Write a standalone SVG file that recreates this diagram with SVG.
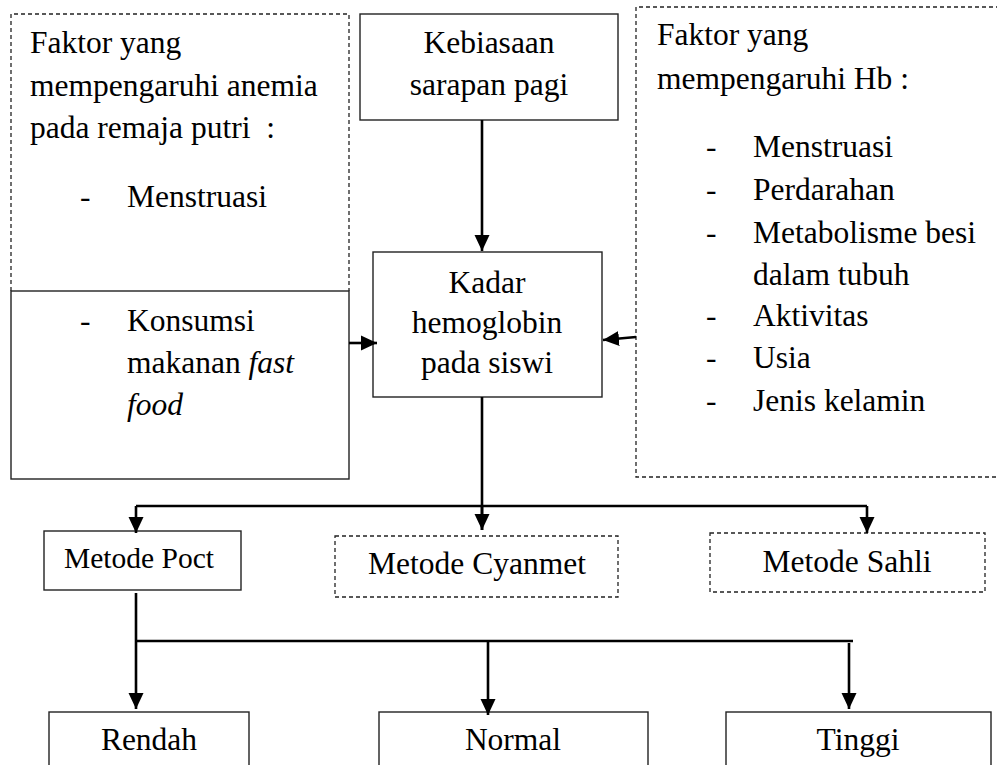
<svg xmlns="http://www.w3.org/2000/svg" width="997" height="765" viewBox="0 0 997 765">
<style>
text{font-family:"Liberation Serif","Times New Roman",serif;font-size:31.5px;fill:#000}
.c{text-anchor:middle}
.box{fill:#fff;stroke:#222;stroke-width:1.4}
.dash{fill:none;stroke:#222;stroke-width:1.3;stroke-dasharray:4 3}
.ln{fill:none;stroke:#000;stroke-width:2.6}
.ah{fill:#000}
</style>
<defs>
<marker id="arr" markerWidth="17" markerHeight="16" refX="16" refY="8" orient="auto" markerUnits="userSpaceOnUse">
<path class="ah" d="M0,0.5 L16,8 L0,15.5 Z"/>
</marker>
</defs>
<rect width="997" height="765" fill="#fff"/>

<g id="faktor-anemia">
<path class="dash" d="M11,291 V14 H349 V291"/>
<text x="30" y="53">Faktor yang</text>
<text x="30" y="96">mempengaruhi anemia</text>
<text x="30" y="138" xml:space="preserve">pada remaja putri  :</text>
<text x="80" y="207">-</text>
<text x="127" y="207">Menstruasi</text>
</g>

<g id="konsumsi">
<rect class="box" x="11" y="291" width="338" height="188"/>
<text x="80" y="331">-</text>
<text x="127" y="331">Konsumsi</text>
<text x="127" y="373">makanan <tspan font-style="italic">fast</tspan></text>
<text x="127" y="415" font-style="italic">food</text>
</g>

<g id="kebiasaan">
<rect class="box" x="360" y="14" width="258" height="106"/>
<text class="c" x="489" y="53">Kebiasaan</text>
<text class="c" x="489" y="95">sarapan pagi</text>
</g>

<g id="kadar">
<rect class="box" x="373" y="252" width="229" height="145"/>
<text class="c" x="487" y="293">Kadar</text>
<text class="c" x="487" y="333">hemoglobin</text>
<text class="c" x="487" y="373">pada siswi</text>
</g>

<g id="faktor-hb">
<path class="dash" d="M1000,7 H636 V477 H1000"/>
<text x="657" y="45">Faktor yang</text>
<text x="657" y="89">mempengaruhi Hb :</text>
<text x="706" y="157">-</text><text x="753" y="157">Menstruasi</text>
<text x="706" y="200">-</text><text x="753" y="200">Perdarahan</text>
<text x="706" y="243">-</text><text x="753" y="243">Metabolisme besi</text>
<text x="753" y="285">dalam tubuh</text>
<text x="706" y="326">-</text><text x="753" y="326">Aktivitas</text>
<text x="706" y="368">-</text><text x="753" y="368">Usia</text>
<text x="706" y="411">-</text><text x="753" y="411">Jenis kelamin</text>
</g>

<g id="poct">
<rect class="box" x="44" y="531" width="197" height="59"/>
<text class="c" x="139" y="568" style="font-size:29.5px">Metode Poct</text>
</g>

<g id="cyanmet">
<rect class="dash" x="335" y="536" width="283" height="61"/>
<text class="c" x="477" y="574">Metode Cyanmet</text>
</g>

<g id="sahli">
<rect class="dash" x="710" y="533" width="275" height="59"/>
<text class="c" x="847" y="572">Metode Sahli</text>
</g>

<g id="rendah">
<rect class="box" x="49" y="712" width="200" height="70"/>
<text class="c" x="149" y="750">Rendah</text>
</g>

<g id="normal">
<rect class="box" x="379" y="712" width="269" height="70"/>
<text class="c" x="513" y="750">Normal</text>
</g>

<g id="tinggi">
<rect class="box" x="726" y="712" width="265" height="70"/>
<text class="c" x="858" y="750">Tinggi</text>
</g>

<g id="connectors">
<path class="ln" d="M482,120 V251" marker-end="url(#arr)"/>
<path class="ln" d="M349,343 H377" marker-end="url(#arr)"/>
<path class="ln" d="M636,337 L603,340" marker-end="url(#arr)"/>
<path class="ln" d="M482,397 V530"/>
<path class="ln" d="M136,506 H867"/>
<path class="ln" d="M136,506 V533" marker-end="url(#arr)"/>
<path class="ln" d="M482,506 V530" marker-end="url(#arr)"/>
<path class="ln" d="M867,506 V533" marker-end="url(#arr)"/>
<path class="ln" d="M136,593 V709" marker-end="url(#arr)"/>
<path class="ln" d="M136,641 H853"/>
<path class="ln" d="M488,641 V715" marker-end="url(#arr)"/>
<path class="ln" d="M849,643 V709" marker-end="url(#arr)"/>
</g>
</svg>
